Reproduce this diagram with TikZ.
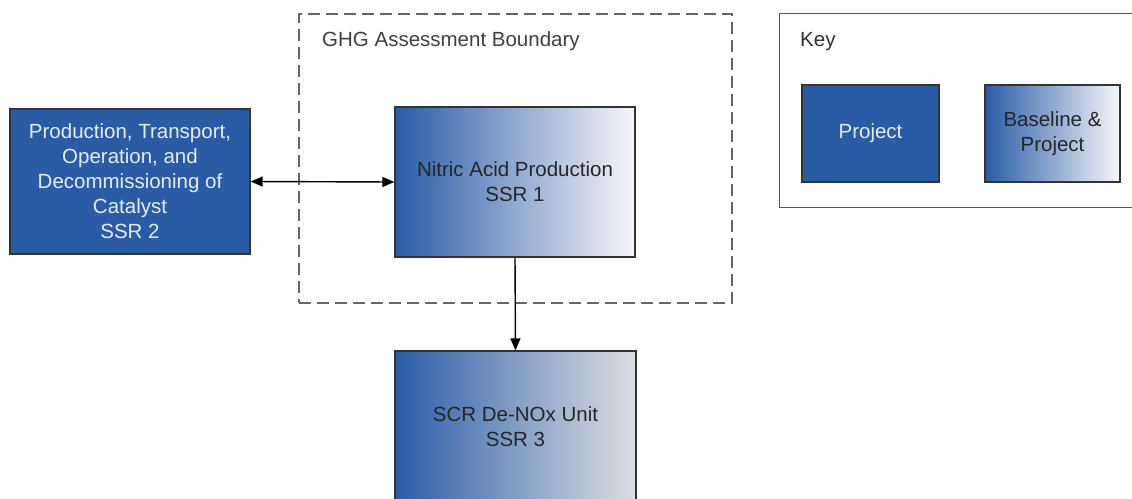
\documentclass[tikz,border=0pt]{standalone}
\usepackage{fontspec}
\setmainfont{Liberation Sans}
\usetikzlibrary{arrows.meta}
\definecolor{pblue}{HTML}{2A5CA6}
\definecolor{ptext}{HTML}{E6ECF4}
\definecolor{bord}{HTML}{333333}
\definecolor{dashg}{HTML}{666666}
\definecolor{pale}{HTML}{F6F7FA}
\definecolor{paleg}{HTML}{DCDFE4}
\tikzset{
  x=1pt, y=-1pt,
  every node/.style={font=\fontsize{20.5}{25}\selectfont, align=center, inner sep=0pt},
  projbox/.style={draw=bord, line width=1.3pt, fill=pblue, text=ptext},
  bothbox/.style={draw=bord, line width=1.3pt, shading=axis, shading angle=90, left color=pblue, right color=pale, text=black!85},
  tip/.style={Triangle[length=12pt,width=10pt]},
  conn/.style={line width=1.4pt, black, {Triangle[length=12pt,width=10pt]}-{Triangle[length=12pt,width=10pt]}},
  conn1/.style={line width=1.4pt, black, -{Triangle[length=12pt,width=10pt]}},
  boundary/.style={draw=dashg, line width=2pt, dash pattern=on 12pt off 6pt},
  keyframe/.style={draw=black!65, line width=1.3pt},
}
\begin{document}
\begin{tikzpicture}
\useasboundingbox (0,0) rectangle (1132,498);
\clip (0,0) rectangle (1132,498);
\fill[white] (0,0) rectangle (1132,498);

% GHG boundary
\node[boundary, minimum width=433pt, minimum height=289pt, anchor=north west] (bnd) at (298,13) {};
\node[anchor=west, text=black!75] (bndlbl) at (322,41) {GHG Assessment Boundary};

% Key
\node[keyframe, minimum width=380pt, minimum height=194pt, anchor=north west] (key) at (779,13) {};
\node[anchor=west, text=black!80] (keylbl) at (800,42) {Key};
\node[projbox, minimum width=137pt, minimum height=97pt] (kproj) at (870.5,133.5) {Project};
\node[bothbox, minimum width=135pt, minimum height=97pt] (kboth) at (1052.5,133.5) {Baseline \&\\Project};

% Main boxes
\node[projbox, minimum width=240pt, minimum height=145pt] (ssr2) at (130,181.5)
  {Production, Transport,\\Operation, and\\Decommissioning of\\Catalyst\\SSR 2};
\node[bothbox, minimum width=240pt, minimum height=150pt] (ssr1) at (515,182)
  {Nitric Acid Production\\SSR 1};
\node[bothbox, right color=paleg, minimum width=241pt, minimum height=151pt] (ssr3) at (515.5,426.5)
  {SCR De-NOx Unit\\SSR 3};

% Connectors
\draw[conn] (ssr2.east) -- (ssr1.west);
\draw[conn1] (ssr1.south) -- (ssr3.north);
\end{tikzpicture}
\end{document}
